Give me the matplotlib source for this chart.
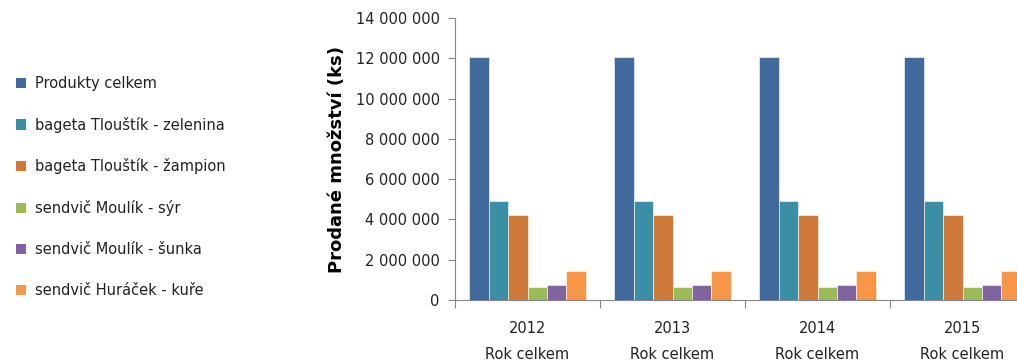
import numpy as np
import matplotlib
matplotlib.use("Agg")
import matplotlib.pyplot as plt
from matplotlib.patches import Patch
from matplotlib.ticker import FuncFormatter

years = ["2012", "2013", "2014", "2015"]
products = [
    "Produkty celkem",
    "bageta Tlouštík - zelenina",
    "bageta Tlouštík - žampion",
    "sendvič Moulík - sýr",
    "sendvič Moulík - šunka",
    "sendvič Huráček - kuře",
]
# sold pieces per product, same for every year
sales = [12050000, 4920000, 4220000, 650000, 740000, 1440000]
colors = ["#41699C", "#3A8FA5", "#CF7A3A", "#9BBB59", "#8064A2", "#F79646"]

plt.rcParams["font.family"] = ["DejaVu Sans"]

fig = plt.figure(figsize=(10.17, 3.64), dpi=100)
# axes run a little past the right edge, so the last group is cut off
ax = fig.add_axes([0.4474, 0.1758, 0.5703, 0.7747])

x = np.arange(len(years))
n = len(products)
w = 0.805 / n
for i, (name, val, c) in enumerate(zip(products, sales, colors)):
    ax.bar(x - 0.4025 + w * (i + 0.5), [val] * len(years), width=w,
           color=c, edgecolor="white", linewidth=0.4, label=name)

ax.set_xlim(-0.5, len(years) - 0.5)
ax.set_ylim(0, 14000000)
ax.set_yticks(np.arange(0, 14000001, 2000000))
ax.yaxis.set_major_formatter(FuncFormatter(lambda v, p: f"{int(v):,}".replace(",", " ")))

# boundaries between years get the tick marks, centres get the labels
ax.set_xticks(np.arange(-0.5, len(years), 1.0))
ax.set_xticklabels([])
ax.set_xticks(x, minor=True)
ax.set_xticklabels([y + "\nRok celkem" for y in years], minor=True, linespacing=1.9)
ax.tick_params(axis="x", which="minor", length=0, pad=15, labelsize=10.5, colors="#222222")
ax.tick_params(axis="x", which="major", length=6, color="#868686")
ax.tick_params(axis="y", length=5, color="#868686", labelsize=10.5, pad=6, labelcolor="#222222")

for s in ["top", "right"]:
    ax.spines[s].set_visible(False)
for s in ["left", "bottom"]:
    ax.spines[s].set_color("#868686")
    ax.spines[s].set_linewidth(0.8)

ax.set_ylabel("Prodané množství (ks)", fontsize=13, fontweight="bold", labelpad=7)

handles = [Patch(facecolor=c, label=p) for p, c in zip(products, colors)]
fig.legend(handles=handles, loc="upper left", bbox_to_anchor=(0.003, 0.828),
           frameon=False, fontsize=10.5, handlelength=0.7, handleheight=0.7,
           handletextpad=0.6, labelspacing=1.77, labelcolor="#222222")

fig.savefig("out.png", dpi=100)
